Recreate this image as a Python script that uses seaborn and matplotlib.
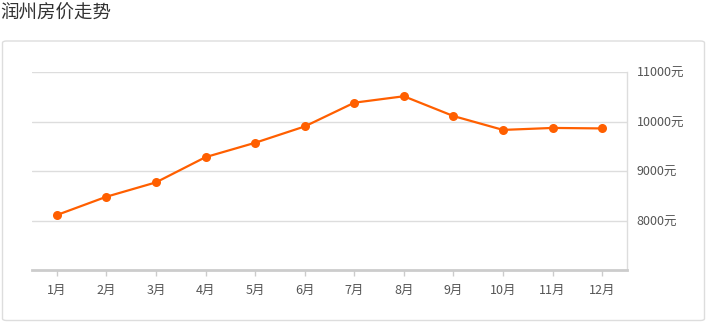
import matplotlib
matplotlib.use("Agg")
import matplotlib.pyplot as plt
from matplotlib.patches import FancyBboxPatch
import seaborn as sns
import pandas as pd

months = ["1月", "2月", "3月", "4月", "5月", "6月", "7月", "8月", "9月", "10月", "11月", "12月"]
prices = [8110, 8480, 8770, 9280, 9570, 9900, 10380, 10510, 10110, 9830, 9870, 9860]
yticks = [8000, 9000, 10000, 11000]
ytick_labels = ["8000元", "9000元", "10000元", "11000元"]
title = "润州房价走势"

sns.set_theme(style="white")
plt.rcParams['font.family'] = ['Noto Sans CJK SC', 'DejaVu Sans']

W, H = 706, 322
fig = plt.figure(figsize=(W / 100, H / 100), dpi=100)

# panel border
panel = FancyBboxPatch((2.5 / W, 1.5 / H), (704.5 - 2.5) / W, (322 - 41 - 1.5) / H,
                       boxstyle="round,pad=0,rounding_size=0.006",
                       transform=fig.transFigure, fill=False, edgecolor="#dddddd", linewidth=1)
fig.patches.append(panel)

fig.text(0 / W, 1 - 14 / H, title, fontsize=13.3, color="#333333", va="center", ha="left")

ax = fig.add_axes([32 / W, 1 - 270 / H, (627 - 32) / W, (270 - 72) / H])
df = pd.DataFrame({"month": months, "price": prices})
sns.lineplot(data=df, x="month", y="price", sort=False, ax=ax, color="#ff5f00",
             linewidth=1.6, marker="o", markersize=6.5, markeredgewidth=0)

ax.set_xlim(-0.5, len(months) - 0.5)
ax.set_ylim(7000, 11000)
ax.set_xlabel("")
ax.set_ylabel("")

ax.yaxis.tick_right()
ax.set_yticks(yticks)
ax.set_yticklabels(ytick_labels)
ax.tick_params(axis="y", length=0, pad=7, labelsize=9, labelcolor="#555555")
ax.tick_params(axis="x", length=4, width=1, color="#cccccc", pad=6, labelsize=9,
               labelcolor="#555555", bottom=True, direction="out")
ax.set_xticks(range(len(months)))
ax.set_xticklabels(months)

ax.grid(axis="y", color="#dddddd", linewidth=1)
ax.grid(axis="x", visible=False)
for s in ["top", "left"]:
    ax.spines[s].set_visible(False)
ax.spines["right"].set_color("#dddddd")
ax.spines["right"].set_linewidth(1)
ax.spines["bottom"].set_color("#cccccc")
ax.spines["bottom"].set_linewidth(2)

fig.savefig("out.png", dpi=100)
